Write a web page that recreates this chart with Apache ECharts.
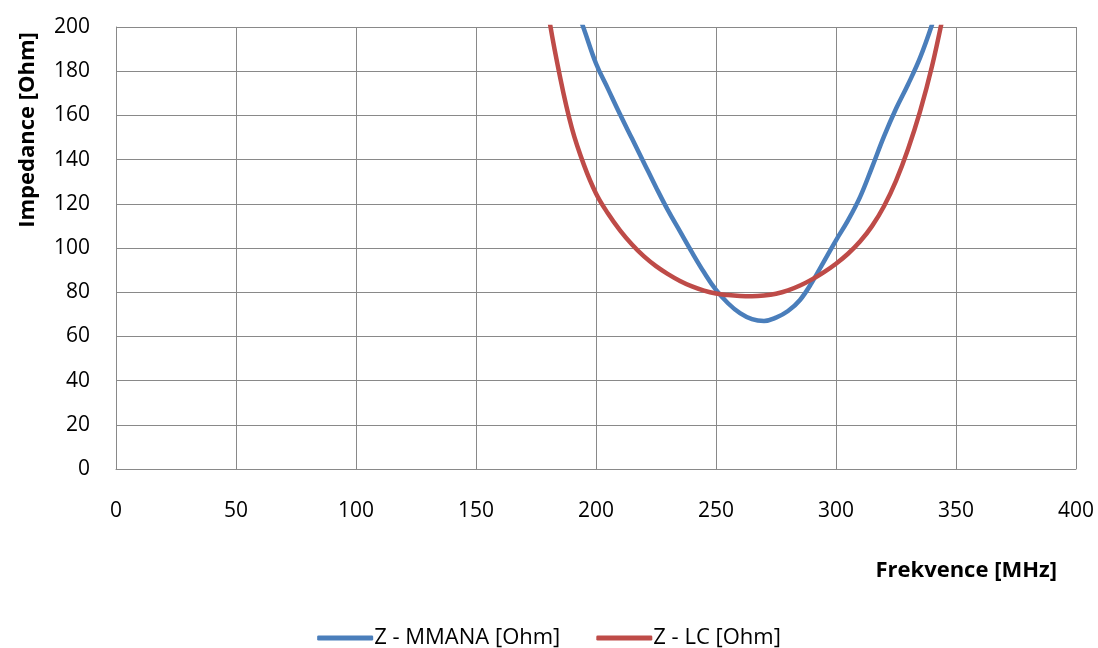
<!DOCTYPE html>
<html>
<head>
<meta charset="utf-8">
<script src="https://cdn.jsdelivr.net/npm/echarts@6/dist/echarts.min.js"></script>
<style>
html,body{margin:0;padding:0;background:#fff;}
#chart{width:1098px;height:648px;}
</style>
</head>
<body>
<div id="chart"></div>
<script>
// Frequency [MHz] and impedance [Ohm]
const freqMMANA = [190, 195, 200, 205, 210, 215, 220, 225, 230, 235, 240, 245, 250, 255, 260, 265, 270, 275, 280, 285, 290, 295, 300, 305, 310, 315, 320, 325, 330, 335, 340];
const zMMANA    = [214, 199, 183.5, 172, 160.5, 149.5, 138.5, 127.5, 117, 107.5, 98, 89, 81, 75, 70.5, 67.8, 67, 68.5, 71.5, 76.5, 84.5, 94, 103.5, 112.5, 123, 136.5, 150.5, 163, 174, 186, 201];

const freqLC = [175, 180, 185, 190, 195, 200, 205, 210, 215, 220, 225, 230, 235, 240, 245, 250, 255, 260, 265, 270, 275, 280, 285, 290, 295, 300, 305, 310, 315, 320, 325, 330, 335, 340, 345];
const zLC    = [248, 207, 177.5, 154, 137.5, 124.7, 115.6, 108, 101.6, 96.2, 91.8, 88.2, 85.1, 82.6, 80.7, 79.4, 78.7, 78.3, 78.2, 78.5, 79.3, 80.8, 83, 85.8, 89.1, 92.9, 97.4, 102.9, 109.9, 118.9, 130.4, 144.7, 161.7, 182.2, 207.2];

const xTicks = {min: 0, max: 400, step: 50};
const yTicks = {min: 0, max: 200, step: 20};

const seriesNames = ['Z - MMANA [Ohm]', 'Z - LC [Ohm]'];
const xTitle = 'Frekvence [MHz]';
const yTitle = 'Impedance [Ohm]';

const pairs = (xs, ys) => xs.map((x, i) => [x, ys[i]]);

const FONT = '"Open Sans", "Liberation Sans", sans-serif';
const GRID = '#898989';
const BLUE = '#4a7ebb';
const RED = '#be4b48';

const chart = echarts.init(document.getElementById('chart'), null, {renderer: 'canvas'});
chart.setOption({
  animation: false,
  backgroundColor: '#ffffff',
  grid: {left: 116, right: 22, top: 27, bottom: 179, containLabel: false},
  xAxis: {
    type: 'value', min: xTicks.min, max: xTicks.max, interval: xTicks.step,
    axisLine: {show: true, lineStyle: {color: GRID, width: 1}},
    axisTick: {show: false},
    axisLabel: {color: '#000', fontFamily: FONT, fontSize: 21, margin: 32},
    splitLine: {show: true, lineStyle: {color: GRID, width: 1}}
  },
  yAxis: {
    type: 'value', min: yTicks.min, max: yTicks.max, interval: yTicks.step,
    axisLine: {show: true, lineStyle: {color: GRID, width: 1}},
    axisTick: {show: false},
    axisLabel: {color: '#000', fontFamily: FONT, fontSize: 21, margin: 26},
    splitLine: {show: true, lineStyle: {color: GRID, width: 1}}
  },
  legend: {
    left: 'center', top: 622,
    icon: 'roundRect',
    itemWidth: 56, itemHeight: 5, itemGap: 36,
    textStyle: {color: '#000', fontFamily: FONT, fontSize: 22, padding: [0, 0, 0, -4]},
    data: seriesNames
  },
  graphic: [
    {type: 'text', x: 28, y: 130, rotation: Math.PI / 2,
     style: {text: yTitle, fill: '#000', font: 'bold 22px ' + FONT, align: 'center', verticalAlign: 'middle'}},
    {type: 'text', x: 1057, y: 571,
     style: {text: xTitle, fill: '#000', font: 'bold 22px ' + FONT, align: 'right', verticalAlign: 'middle'}}
  ],
  series: [
    {name: seriesNames[0], type: 'line', data: pairs(freqMMANA, zMMANA), smooth: 0.4, symbol: 'none', clip: true,
     lineStyle: {color: BLUE, width: 4.5, cap: 'round'}, itemStyle: {color: BLUE}},
    {name: seriesNames[1], type: 'line', data: pairs(freqLC, zLC), smooth: 0.4, symbol: 'none', clip: true,
     lineStyle: {color: RED, width: 4.5, cap: 'round'}, itemStyle: {color: RED}}
  ]
});
</script>
</body>
</html>
